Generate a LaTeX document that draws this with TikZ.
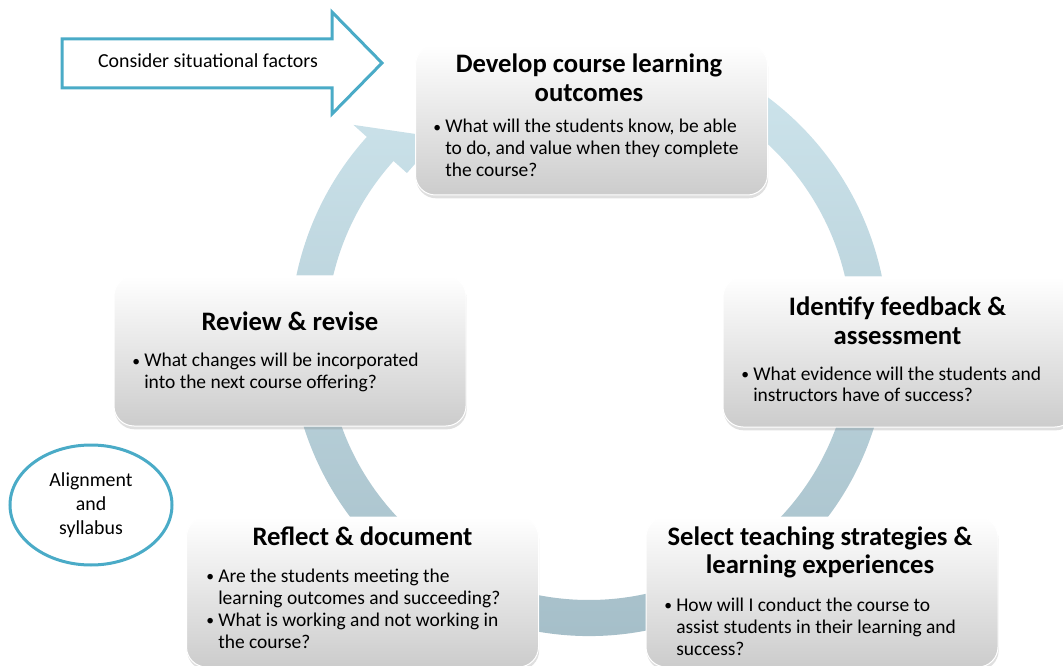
\documentclass[tikz,border=0pt]{standalone}
\usepackage{fontspec}
\setmainfont{Carlito}
\usetikzlibrary{shapes.geometric,shadows,positioning}
\definecolor{tealline}{rgb}{0.29, 0.67, 0.78}
\definecolor{ringtop}{rgb}{0.81, 0.90, 0.93}
\definecolor{ringbottom}{rgb}{0.64, 0.74, 0.78}
\definecolor{boxgray}{rgb}{0.80, 0.80, 0.80}

\newcommand{\headlines}[1]{\begin{tabular}[t]{@{}c@{}}#1\end{tabular}}
\newcommand{\bulletlines}[1]{\begin{tabular}[t]{@{}l@{}l@{}}#1\end{tabular}}
\newcommand{\bul}{\makebox[9pt][l]{\raisebox{0.6pt}{\scalebox{0.8}{\textbullet}}}}

\tikzset{
  stagebox/.style={rectangle, rounded corners=15pt, draw=white, line width=0.75pt,
    top color=white, bottom color=boxgray, minimum width=264pt, minimum height=112.5pt,
    drop shadow={shadow xshift=0.5pt, shadow yshift=-2.5pt, opacity=0.25}},
  stagehead/.style={font=\fontsize{20}{21.4}\selectfont\bfseries, inner sep=0pt, anchor=base},
  stagetext/.style={font=\fontsize{14.6}{16.5}\selectfont, inner sep=0pt, anchor=base west},
  notetext/.style={font=\fontsize{14.9}{18}\selectfont, align=center},
  factorarrow/.style={draw=tealline, line width=2.25pt, fill=white, line join=miter}
}

\begin{document}
\begin{tikzpicture}[x=0.75pt, y=-0.75pt]
    \useasboundingbox (0,0) rectangle (1063,666) ;
    \clip (0,0) rectangle (1063,666) ;

    % cycle arrow behind the stages
    \begin{scope}[shift={(589,337)}]
        \shade[top color=ringtop, bottom color=ringbottom]
            (-75:299) arc[start angle=-75, end angle=222, radius=299]
            -- (222:317) -- (233:250) -- (222:245) -- (222:263)
            arc[start angle=222, end angle=-75, radius=263] -- cycle ;
    \end{scope}

    \node[stagebox] (develop) at (591.5,120) {} ;
    \node[stagebox] (feedback) at (899,352) {} ;
    \node[stagebox] (review) at (290,351) {} ;
    \node[stagebox] (reflect) at (362.5,592) {} ;
    \node[stagebox] (select) at (822,592) {} ;

    \node[stagehead] (develophead) at (589,73) {\headlines{Develop course learning\\outcomes}} ;
    \node[stagetext] (developtext) at (433,133) {\bulletlines{\bul & What will the students know, be able\\
        & to do, and value when they complete\\ & the course?}} ;

    \node[stagehead] (feedbackhead) at (897.5,316) {\headlines{Identify feedback \&\\assessment}} ;
    \node[stagetext] (feedbacktext) at (741,380) {\bulletlines{\bul & What evidence will the students and\\
        & instructors have of success?}} ;

    \node[stagehead] (reviewhead) at (290,330) {\headlines{Review \& revise}} ;
    \node[stagetext] (reviewtext) at (132,367) {\bulletlines{\bul & What changes will be incorporated\\
        & into the next course offering?}} ;

    \node[stagehead] (reflecthead) at (362.5,545) {\headlines{Reflect \& document}} ;
    \node[stagetext] (reflecttext) at (206,582) {\bulletlines{\bul & Are the students meeting the\\
        & learning outcomes and succeeding?\\ \bul & What is working and not working in\\ & the course?}} ;

    \node[stagehead] (selecthead) at (820,545) {\headlines{Select teaching strategies \&\\learning experiences}} ;
    \node[stagetext] (selecttext) at (664,611) {\bulletlines{\bul & How will I conduct the course to\\
        & assist students in their learning and\\ & success?}} ;

    % side notes
    \draw[factorarrow] (62,39) -- (332,39) -- (332,12) -- (382,63) -- (332,114) -- (332,88) -- (62,88) -- cycle ;
    \node[notetext] (factors) at (208,61) {Consider situational factors} ;
    \node[ellipse, draw=tealline, line width=2.25pt, minimum width=121.5pt, minimum height=90pt, notetext] (alignment) at (91,505) {Alignment\\and\\syllabus} ;
\end{tikzpicture}
\end{document}
